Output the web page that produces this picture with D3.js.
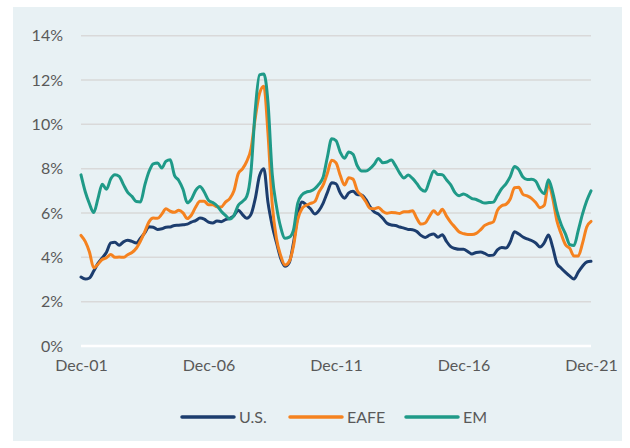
<!DOCTYPE html>
<html>
<head>
<meta charset="utf-8">
<script src="https://cdn.jsdelivr.net/npm/d3@7"></script>
<style>
  html, body { margin: 0; padding: 0; background: #ffffff; }
  svg { display: block; }
  text { font-family: Lato, "Open Sans", sans-serif; fill: #595959; }
</style>
</head>
<body>
<svg id="chart" width="630" height="448"></svg>
<script>
// Bi-monthly observations, Dec 2001 through Dec 2021 (values in %)
const startDate = new Date(2001, 11, 1);
const stepMonths = 2;

const usValues = [
  3.11, 3.02, 3.07, 3.38, 3.73, 3.97, 4.23, 4.65, 4.68, 4.55,
  4.70, 4.77, 4.72, 4.65, 4.86, 5.10, 5.38, 5.36, 5.26, 5.29,
  5.36, 5.37, 5.44, 5.45, 5.47, 5.50, 5.59, 5.66, 5.77, 5.72,
  5.59, 5.55, 5.64, 5.61, 5.70, 5.76, 5.88, 6.13, 5.93, 5.76,
  5.94, 6.65, 7.68, 8.00, 6.48, 5.43, 4.66, 3.95, 3.60, 3.77,
  4.65, 5.84, 6.50, 6.37, 6.19, 5.96, 6.11, 6.45, 6.93, 7.37,
  7.32, 6.90, 6.67, 6.91, 6.98, 6.83, 6.81, 6.61, 6.29, 6.05,
  5.95, 5.76, 5.54, 5.46, 5.44, 5.37, 5.32, 5.26, 5.25, 5.17,
  4.99, 4.90, 5.00, 5.05, 4.91, 5.02, 4.72, 4.48, 4.40, 4.36,
  4.36, 4.26, 4.15, 4.22, 4.24, 4.18, 4.08, 4.10, 4.34, 4.44,
  4.42, 4.69, 5.16, 5.05, 4.92, 4.83, 4.76, 4.65, 4.47, 4.66,
  5.01, 4.45, 3.72, 3.51, 3.32, 3.15, 3.02, 3.33, 3.60, 3.79,
  3.82
];

const eafeValues = [
  4.99, 4.71, 4.24, 3.53, 3.69, 3.90, 3.98, 4.13, 4.00, 4.01,
  4.00, 4.12, 4.22, 4.41, 4.74, 5.15, 5.60, 5.77, 5.76, 5.95,
  6.19, 6.08, 6.03, 6.12, 6.01, 5.75, 5.91, 6.27, 6.53, 6.53,
  6.37, 6.37, 6.28, 6.27, 6.49, 6.65, 7.00, 7.78, 7.99, 8.33,
  8.90, 10.29, 11.39, 11.72, 9.60, 6.40, 4.84, 4.07, 3.65, 3.82,
  4.50, 5.70, 6.20, 6.35, 6.43, 6.52, 6.94, 7.27, 7.81, 8.38,
  8.27, 7.69, 7.26, 7.59, 7.53, 7.01, 6.79, 6.51, 6.21, 6.19,
  6.25, 6.08, 5.99, 6.02, 6.01, 5.98, 6.06, 6.06, 6.10, 5.76,
  5.50, 5.55, 5.85, 6.10, 5.93, 6.17, 5.86, 5.58, 5.36, 5.14,
  5.07, 5.03, 5.03, 5.08, 5.24, 5.44, 5.53, 5.60, 6.12, 6.33,
  6.39, 6.63, 7.14, 7.16, 6.84, 6.77, 6.66, 6.47, 6.24, 6.35,
  7.32, 6.66, 5.63, 5.05, 4.57, 4.40, 4.06, 4.06, 4.63, 5.37,
  5.62
];

const emValues = [
  7.72, 6.95, 6.42, 6.02, 6.65, 7.30, 7.07, 7.55, 7.73, 7.65,
  7.28, 6.93, 6.75, 6.52, 6.50, 7.25, 7.87, 8.22, 8.26, 8.03,
  8.34, 8.40, 7.70, 7.47, 7.07, 6.46, 6.63, 7.02, 7.20, 6.95,
  6.58, 6.47, 6.33, 6.08, 5.89, 5.73, 5.89, 6.35, 6.52, 6.75,
  7.87, 10.65, 12.23, 12.27, 11.00, 7.75, 6.30, 5.35, 4.86, 4.91,
  5.23, 6.44, 6.82, 6.94, 6.99, 7.10, 7.30, 7.63, 8.54, 9.35,
  9.27, 8.74, 8.47, 8.75, 8.65, 8.13, 7.90, 7.89, 8.00, 8.20,
  8.46, 8.27, 8.30, 8.39, 8.14, 7.80, 7.58, 7.71, 7.56, 7.33,
  7.08, 6.98, 7.45, 7.90, 7.74, 7.73, 7.50, 7.27, 6.92, 6.78,
  6.86, 6.77, 6.65, 6.61, 6.52, 6.45, 6.47, 6.49, 6.79, 7.10,
  7.32, 7.64, 8.10, 7.96, 7.62, 7.51, 7.52, 7.44, 7.07, 6.87,
  7.50, 6.93, 6.07, 5.47, 5.05, 4.57, 4.53, 5.21, 5.95, 6.55,
  7.00
];

const seriesNames = ["U.S.", "EAFE", "EM"];
const seriesColors = ["#1c3d6e", "#f5821f", "#1f9a88"];
const yTickValues = [0, 2, 4, 6, 8, 10, 12, 14];
const xTickYears = [2001, 2006, 2011, 2016, 2021];

const dates = usValues.map((_, i) => d3.timeMonth.offset(startDate, i * stepMonths));
const series = [usValues, eafeValues, emValues].map((vals, k) => ({
  name: seriesNames[k],
  color: seriesColors[k],
  points: vals.map((v, i) => ({ date: dates[i], value: v }))
}));

const svg = d3.select("#chart");
const W = 630, H = 448;
const plot = { left: 81, right: 591, top: 35.7, bottom: 346 };

// panel background
svg.append("rect")
  .attr("x", 13).attr("y", 7)
  .attr("width", 609).attr("height", 434)
  .attr("fill", "#e8f1f4");

const x = d3.scaleTime()
  .domain([dates[0], dates[dates.length - 1]])
  .range([plot.left, plot.right]);

const y = d3.scaleLinear()
  .domain([0, 14])
  .range([plot.bottom, plot.top]);

// horizontal gridlines
svg.append("g")
  .selectAll("line")
  .data(yTickValues.filter(v => v > 0))
  .join("line")
  .attr("x1", plot.left).attr("x2", plot.right)
  .attr("y1", d => y(d)).attr("y2", d => y(d))
  .attr("stroke", "#d9d9d9")
  .attr("stroke-width", 1.5);

// baseline
svg.append("line")
  .attr("x1", plot.left).attr("x2", plot.right)
  .attr("y1", y(0)).attr("y2", y(0))
  .attr("stroke", "#ffffff")
  .attr("stroke-width", 2.5);

// y axis labels
const yAxis = d3.axisLeft(y)
  .tickValues(yTickValues)
  .tickFormat(d => d + "%")
  .tickSize(0)
  .tickPadding(0);
const gy = svg.append("g")
  .attr("transform", `translate(63,0)`)
  .call(yAxis);
gy.select(".domain").remove();
gy.selectAll("text")
  .attr("font-size", 16)
  .attr("fill", "#595959")
  .attr("font-family", "Lato, 'Open Sans', sans-serif");

// x axis labels
const fmt = d3.timeFormat("%b-%y");
const xAxis = d3.axisBottom(x)
  .tickValues(xTickYears.map(yr => new Date(yr, 11, 1)))
  .tickFormat(fmt)
  .tickSize(0)
  .tickPadding(0);
const gx = svg.append("g")
  .attr("transform", `translate(0,${plot.bottom + 14})`)
  .call(xAxis);
gx.select(".domain").remove();
gx.selectAll("text")
  .attr("font-size", 16)
  .attr("fill", "#595959")
  .attr("font-family", "Lato, 'Open Sans', sans-serif");

// series lines
const line = d3.line()
  .x(d => x(d.date))
  .y(d => y(d.value))
  .curve(d3.curveMonotoneX);

svg.append("g")
  .selectAll("path")
  .data(series)
  .join("path")
  .attr("d", d => line(d.points))
  .attr("fill", "none")
  .attr("stroke", d => d.color)
  .attr("stroke-width", 3)
  .attr("stroke-linejoin", "round")
  .attr("stroke-linecap", "round");

// legend
const legendX = [182, 290, 406];
const legend = svg.append("g")
  .selectAll("g")
  .data(series)
  .join("g")
  .attr("transform", (d, i) => `translate(${legendX[i]},417)`);
legend.append("line")
  .attr("x1", 0).attr("x2", 52)
  .attr("y1", 0).attr("y2", 0)
  .attr("stroke", d => d.color)
  .attr("stroke-width", 3.5)
  .attr("stroke-linecap", "round");
legend.append("text")
  .attr("x", 57)
  .attr("y", 0)
  .attr("dy", "0.36em")
  .attr("font-size", 16)
  .text(d => d.name);
</script>
</body>
</html>
